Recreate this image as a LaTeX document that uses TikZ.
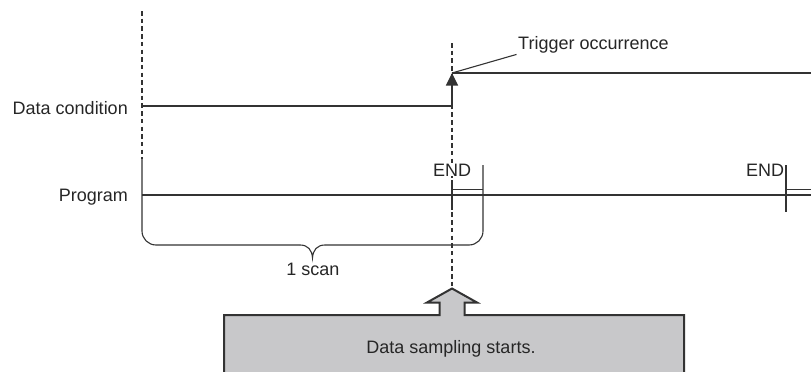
\documentclass[tikz,border=0pt]{standalone}
\usepackage{fontspec}
\setmainfont{Liberation Sans}
\usetikzlibrary{arrows.meta}
\definecolor{linegray}{HTML}{333333}
\definecolor{textcol}{HTML}{262626}
\definecolor{boxfill}{HTML}{C8C8CA}
\begin{document}
\begin{tikzpicture}[x=1pt,y=-1pt,
  lbl/.style={font=\fontsize{18}{21}\selectfont, text=textcol, inner sep=0pt},
  sig/.style={draw=linegray, line width=1.5pt},
  thinline/.style={draw=linegray, line width=1.1pt},
  guide/.style={draw=linegray, line width=1.1pt, dash pattern=on 4.5pt off 3.2pt},
  blockarrow/.style={fill=boxfill, draw=linegray, line width=2pt, line join=miter}]
\useasboundingbox (0,0) rectangle (811,372);

% key points
\coordinate (leftTop) at (142,11);
\coordinate (progStart) at (142,159);
\coordinate (dcL) at (142,106);
\coordinate (trigLow) at (452,106);
\coordinate (trig) at (452,73);
\coordinate (dcR) at (811,73);
\coordinate (midTop) at (452,43);
\coordinate (midBot) at (452,288);

% guide lines
\draw[guide] (leftTop) -- (progStart);
\draw[guide] (midTop) -- (midBot);

% labels
\node[lbl, anchor=east] (dclabel) at (128,108.5) {Data condition};
\node[lbl, anchor=base east] (proglabel) at (128,201.5) {Program};
\node[lbl, anchor=base west] (trigtext) at (518,49.5) {Trigger occurrence};
\node[lbl, anchor=base, fill=white] (end1) at (452,176) {END};
\node[lbl, anchor=base] (end2) at (765,176) {END};
\node[lbl, anchor=base] (scan) at (313,275) {1 scan};

% data condition signal
\draw[sig] (dcL) -- (trigLow);
\draw[sig, -{Triangle[width=12pt,length=12.5pt]}] (trigLow) -- (trig);
\draw[sig] (trig) -- (dcR);
\draw[thinline] (trig) -- ([xshift=-1.5pt,yshift=-1pt]trigtext.south west);

% program line
\coordinate (progL) at (142,195);
\coordinate (progR) at (811,195);
\draw[thinline] (progL) -- (progR);

% END markers
\draw[thinline] (452,180) -- (452,210);
\draw[thinline] (452,189.3) -- (483,189.3);
\draw[thinline] (786,165) -- (786,212);
\draw[thinline] (786,189.3) -- (811,189.3);

% scan brace
\draw[thinline, rounded corners=14pt] (progStart) -- (142,245) -- (300,245);
\draw[thinline] (300,245) .. controls (308,245) and (312,250) .. (312.5,258)
                 .. controls (313,250) and (317,245) .. (325,245);
\draw[thinline, rounded corners=14pt] (325,245) -- (483,245) -- (483,165);

% block arrow box
\filldraw[blockarrow] (224,373) -- (224,315) -- (439.5,315) -- (439.5,302.5)
  -- (427,302.5) -- (452,288.5) -- (477,302.5) -- (464.5,302.5)
  -- (464.5,315) -- (684,315) -- (684,373);
\node[lbl, anchor=base] (sampling) at (451,353.5) {Data sampling starts.};
\end{tikzpicture}
\end{document}
